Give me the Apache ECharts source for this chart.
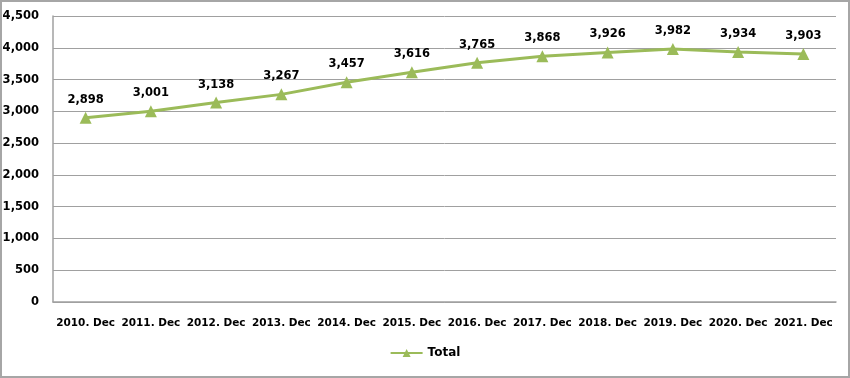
<!DOCTYPE html>
<html>
<head>
<meta charset="utf-8">
<script src="https://cdn.jsdelivr.net/npm/echarts@6/dist/echarts.min.js"></script>
<style>
  html, body { margin: 0; padding: 0; background: #fff; }
  #chart { width: 846px; height: 374px; border: 2px solid #a6a6a6; }
</style>
</head>
<body>
<div id="chart"></div>
<script>
const categories = ['2010. Dec', '2011. Dec', '2012. Dec', '2013. Dec', '2014. Dec', '2015. Dec',
  '2016. Dec', '2017. Dec', '2018. Dec', '2019. Dec', '2020. Dec', '2021. Dec'];
const totalValues = [2898, 3001, 3138, 3267, 3457, 3616, 3765, 3868, 3926, 3982, 3934, 3903];

const fmt = (v) => v.toLocaleString('en-US');

var myChart = echarts.init(document.getElementById('chart'), null, { renderer: 'canvas' });
var option = {
  animation: false,
  textStyle: { fontFamily: 'DejaVu Sans' },
  grid: { left: 51, right: 12, top: 14, bottom: 74, outerBoundsMode: 'none' },
  legend: {
    bottom: 12,
    left: 'center',
    itemWidth: 32,
    itemHeight: 10,
    itemGap: 4,
    textStyle: { fontWeight: 'bold', fontSize: 12, color: '#000' },
    data: ['Total']
  },
  xAxis: {
    type: 'category',
    data: categories,
    axisLine: { lineStyle: { color: '#a0a0a0', width: 1.5 } },
    axisTick: { show: false },
    axisLabel: { fontWeight: 'bold', fontSize: 10.5, color: '#000', margin: 16, interval: 0 }
  },
  yAxis: {
    type: 'value',
    min: 0,
    max: 4500,
    interval: 500,
    axisLine: { show: true, lineStyle: { color: '#a0a0a0', width: 1.5 } },
    splitLine: { lineStyle: { color: '#a0a0a0', width: 1 } },
    axisLabel: { fontWeight: 'bold', fontSize: 11.5, color: '#000', margin: 14, formatter: fmt }
  },
  series: [{
    name: 'Total',
    type: 'line',
    data: totalValues,
    symbol: 'triangle',
    symbolSize: 12,
    lineStyle: { color: '#9bbb59', width: 3 },
    itemStyle: { color: '#9bbb59' },
    label: {
      show: true,
      position: 'top',
      distance: 6,
      fontWeight: 'bold',
      fontSize: 11.5,
      color: '#000',
      formatter: (p) => fmt(p.value)
    }
  }]
};
myChart.setOption(option);
</script>
</body>
</html>
